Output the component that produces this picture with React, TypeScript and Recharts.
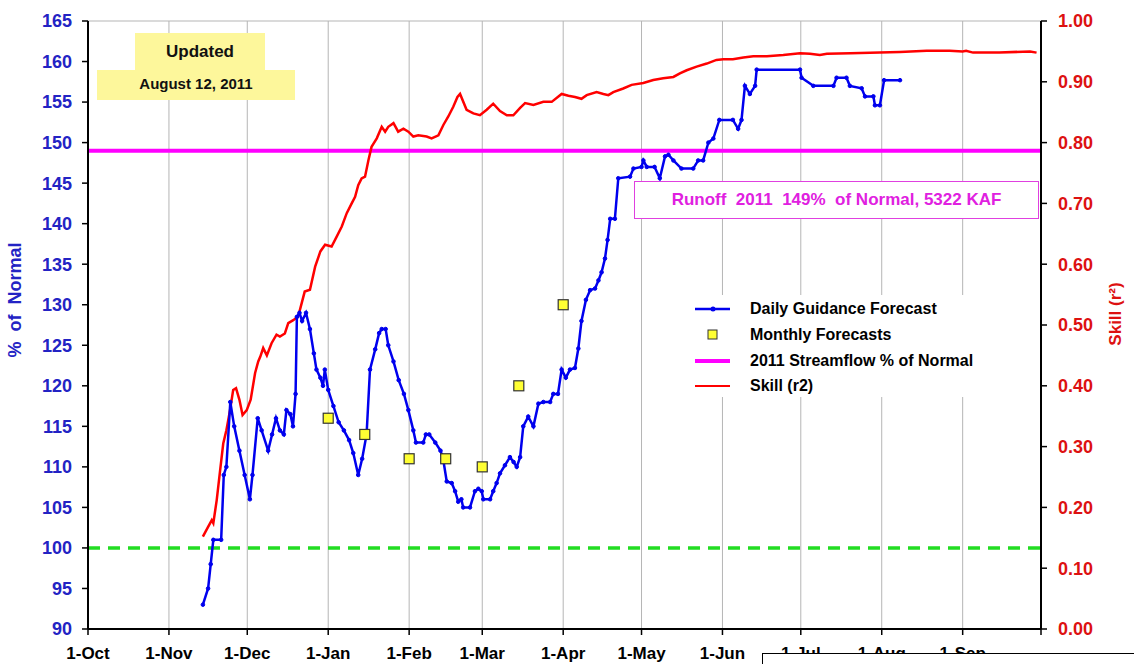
import {
  ComposedChart, Line, Scatter, XAxis, YAxis, CartesianGrid, ReferenceLine
} from 'recharts'

// x = days since 1-Oct-2010
const monthTicks = [0, 31, 61, 92, 123, 151, 182, 212, 243, 273, 304, 335, 365]
const monthLabels = ['1-Oct', '1-Nov', '1-Dec', '1-Jan', '1-Feb', '1-Mar', '1-Apr', '1-May', '1-Jun', '1-Jul', '1-Aug', '1-Sep', '']
const pctTicks = [90, 95, 100, 105, 110, 115, 120, 125, 130, 135, 140, 145, 150, 155, 160, 165]
const skillTicks = [0, 0.1, 0.2, 0.3, 0.4, 0.5, 0.6, 0.7, 0.8, 0.9, 1.0]

const normalLevel = 100
const streamflow2011 = 149

// daily guidance forecast (% of normal)
const guidance: [number, number][] = [
  [44, 93], [46, 95], [47, 98], [48, 101], [51, 101], [52, 109], [53, 110], [54.5, 118], [56, 115],
  [58, 112], [60, 109], [62, 106], [63, 109], [65, 116], [66.5, 114.5], [69, 112], [70.5, 114],
  [72, 116], [73.5, 114.5], [75, 114], [76, 117], [77.5, 116.5], [78.5, 115], [79.5, 119],
  [80, 128.5], [81, 129], [82, 128], [83.5, 129], [85, 127], [86.5, 124], [87.5, 122], [89, 121],
  [90, 120], [90.7, 122], [92, 119.5], [94, 117.5], [96, 115.5], [98, 114.5], [100, 113.3],
  [101.6, 111.7], [103.5, 109], [105, 111], [106.7, 114], [108, 122], [110, 124.5], [111.5, 126.5],
  [112.5, 127], [114, 127], [115, 125], [117, 123], [119, 120.7], [121, 119], [122.7, 117],
  [124.6, 114.5], [125.6, 113], [128.4, 113], [129.4, 114], [130.7, 114], [133, 113], [135, 112],
  [136, 111], [137.4, 108.2], [139.3, 108], [140.6, 107], [141.8, 105.7], [143, 106], [143.7, 105],
  [146.3, 105], [148.2, 107], [149.5, 107.3], [150.8, 107], [151.4, 106], [154, 106], [155.2, 107],
  [156.5, 108], [157.8, 109.2], [159.7, 110.2], [161.6, 111.2], [163, 110.6], [164.2, 110],
  [165.5, 111.2], [166.7, 115], [168.6, 116.2], [170.6, 115], [172.5, 117.8], [174.4, 118],
  [177, 118], [178.2, 119], [180, 119], [181.4, 122], [183, 121], [184.6, 122], [186.5, 122.2],
  [187.8, 124.6], [189, 128], [190.7, 130.6], [192.3, 131.8], [194.2, 132], [195.5, 133],
  [196.7, 134], [198, 135.7], [199, 138], [200, 140.6], [201.8, 140.6], [203.1, 145.6],
  [207.6, 145.8], [208.9, 146.8], [212, 147], [212.7, 147.8], [214, 147], [217, 147], [219, 145.6],
  [221, 148.3], [222.3, 148.5], [224.2, 147.8], [227.3, 146.8], [231.8, 146.8], [233.7, 147.8],
  [235.6, 147.8], [237.6, 150], [239.5, 150.5], [241.8, 152.8], [247, 152.8], [249, 151.7],
  [250.3, 152.8], [251.6, 157], [253.5, 156], [255.5, 157], [256.1, 159], [272.7, 159],
  [273.3, 158], [277.8, 157], [285.5, 157], [286.7, 158], [290.5, 158], [291.8, 157], [296.3, 156.7],
  [297.6, 155.7], [300.8, 155.7], [301.4, 154.6], [303.3, 154.6], [304.9, 157.7], [311, 157.7],
]

// monthly forecasts (% of normal)
const monthly: [number, number][] = [
  [92, 116], [106, 114], [123, 111], [137, 111], [151, 110], [165, 120], [182, 130],
]

// skill r2
const skill: [number, number][] = [
  [44, 0.152], [46, 0.168], [47.4, 0.179], [48, 0.174], [49.3, 0.212], [50.6, 0.261], [51.8, 0.305],
  [53, 0.327], [54.4, 0.36], [55.6, 0.393], [56.7, 0.396], [58, 0.377], [59.2, 0.352], [60.8, 0.36],
  [62.3, 0.377], [64, 0.421], [65.2, 0.44], [66, 0.448], [67.1, 0.462], [68.5, 0.45], [70.3, 0.47],
  [72.2, 0.484], [73.5, 0.481], [75.4, 0.486], [76.7, 0.503], [78.6, 0.508], [80.5, 0.514],
  [83, 0.555], [85, 0.558], [87, 0.596], [89, 0.621], [90.8, 0.632], [93.3, 0.629], [95.2, 0.645],
  [97.2, 0.662], [99.1, 0.684], [101, 0.7], [102.3, 0.711], [103.5, 0.73], [104.8, 0.741],
  [106.1, 0.744], [107.4, 0.771], [108.6, 0.793], [110.6, 0.807], [112.5, 0.826], [113.8, 0.818],
  [115, 0.826], [117, 0.832], [118.8, 0.818], [120.8, 0.823], [122.7, 0.818], [124.6, 0.81],
  [126.5, 0.812], [129.7, 0.81], [131.6, 0.807], [134.2, 0.812], [136.1, 0.829], [138, 0.843],
  [139.9, 0.859], [141.5, 0.875], [142.5, 0.88], [145, 0.854], [147.6, 0.848], [150.1, 0.845],
  [152.7, 0.854], [155.2, 0.864], [157.8, 0.852], [160.4, 0.845], [162.9, 0.845], [165.5, 0.857],
  [167.4, 0.865], [170.6, 0.862], [174.4, 0.867], [177.6, 0.867], [181.4, 0.88], [184, 0.877],
  [186.5, 0.875], [189, 0.872], [191, 0.878], [194.8, 0.883], [197.4, 0.88], [199.3, 0.878],
  [201.2, 0.883], [205, 0.889], [208.2, 0.895], [212.7, 0.898], [216.5, 0.903], [220.3, 0.906],
  [224.2, 0.908], [226.7, 0.914], [229.3, 0.919], [233.1, 0.925], [237, 0.93], [240.7, 0.936],
  [243.3, 0.937], [247, 0.937], [251, 0.94], [254.8, 0.942], [260, 0.942], [266.3, 0.944],
  [272.7, 0.947], [276.5, 0.946], [280.3, 0.944], [283, 0.946], [292, 0.947], [303.3, 0.948],
  [311, 0.949], [321.2, 0.951], [330, 0.951], [335, 0.95], [336.3, 0.951], [339, 0.948],
  [349, 0.948], [360.8, 0.95], [363.3, 0.948],
]

const SANS = '"Liberation Sans", Arial, sans-serif'
const BLUE = '#0000ee'
const AXIS_BLUE = '#2323c4'
const RED = '#ff0000'
const AXIS_RED = '#dd1111'
const MAGENTA = '#ff00ff'

const toPts = (a: [number, number][]) => a.map(([d, v]) => ({ d, v }))

const Square = (p: any) => (
  <rect x={p.cx - 5} y={p.cy - 5} width={10} height={10} fill="#ffff33" stroke="#333" strokeWidth={1.2} />
)

function LegendBox() {
  const row = { position: 'absolute' as const, left: 20, height: 24, display: 'flex', alignItems: 'center' }
  const txt = { position: 'absolute' as const, left: 55, whiteSpace: 'nowrap' as const }
  return (
    <div style={{ position: 'absolute', left: 675, top: 295, width: 320, height: 102, background: '#fff',
      fontFamily: SANS, fontWeight: 'bold', fontSize: 16, color: '#000' }}>
      <div style={{ ...row, top: 2 }}>
        <svg width={36} height={10}><line x1={0} y1={5} x2={35} y2={5} stroke={BLUE} strokeWidth={2.5} /><circle cx={18} cy={5} r={2.5} fill={BLUE} /></svg>
        <span style={txt}>Daily Guidance Forecast</span>
      </div>
      <div style={{ ...row, top: 28 }}>
        <svg width={36} height={12}><rect x={13} y={1} width={9} height={9} fill="#ffff33" stroke="#333" /></svg>
        <span style={txt}>Monthly Forecasts</span>
      </div>
      <div style={{ ...row, top: 54 }}>
        <svg width={36} height={10}><line x1={0} y1={5} x2={35} y2={5} stroke={MAGENTA} strokeWidth={4} /></svg>
        <span style={txt}>2011 Streamflow % of Normal</span>
      </div>
      <div style={{ ...row, top: 79 }}>
        <svg width={36} height={10}><line x1={0} y1={5} x2={35} y2={5} stroke={RED} strokeWidth={2} /></svg>
        <span style={txt}>Skill (r2)</span>
      </div>
    </div>
  )
}

export default function App() {
  return (
    <div style={{ position: 'relative', width: 1134, height: 664, overflow: 'hidden', background: '#fff' }}>
      <style>{'body{margin:0;overflow:hidden}'}</style>
      <ComposedChart width={1134} height={664} margin={{ top: 21, right: 0, bottom: 0, left: 0 }}>
        <CartesianGrid stroke="#b5b5b5" strokeWidth={1} />
        <XAxis dataKey="d" type="number" domain={[0, 365]} ticks={monthTicks} height={35}
          tickFormatter={(v: number) => monthLabels[monthTicks.indexOf(v)] ?? ''}
          axisLine={{ stroke: '#000', strokeWidth: 2 }} tickLine={{ stroke: '#000', strokeWidth: 1.5 }}
          tickSize={6} tickMargin={12}
          tick={{ fill: '#000', fontSize: 17, fontWeight: 'bold', fontFamily: SANS }} />
        <YAxis yAxisId="left" orientation="left" domain={[90, 165]} ticks={pctTicks} width={88}
          allowDataOverflow axisLine={{ stroke: '#000', strokeWidth: 2 }} tickLine={{ stroke: '#000', strokeWidth: 1.5 }}
          tickSize={6} tickMargin={10}
          tick={{ fill: AXIS_BLUE, fontSize: 18, fontWeight: 'bold', fontFamily: SANS }} />
        <YAxis yAxisId="right" orientation="right" domain={[0, 1]} ticks={skillTicks} width={93}
          allowDataOverflow axisLine={{ stroke: '#000', strokeWidth: 2 }} tickLine={{ stroke: '#000', strokeWidth: 1.5 }}
          tickSize={6} tickMargin={11} tickFormatter={(v: number) => v.toFixed(2)}
          tick={{ fill: AXIS_RED, fontSize: 18, fontWeight: 'bold', fontFamily: SANS }} />
        <ReferenceLine yAxisId="left" y={normalLevel} stroke="#22dd22" strokeWidth={3.5} strokeDasharray="12 8" />
        <ReferenceLine yAxisId="left" y={streamflow2011} stroke={MAGENTA} strokeWidth={4} />
        <Line yAxisId="right" data={toPts(skill)} dataKey="v" stroke={RED} strokeWidth={2.5}
          dot={false} isAnimationActive={false} />
        <Line yAxisId="left" data={toPts(guidance)} dataKey="v" stroke={BLUE} strokeWidth={2.5}
          dot={{ r: 1.8, fill: BLUE, stroke: BLUE, strokeWidth: 1 }} isAnimationActive={false} />
        <Scatter yAxisId="left" data={toPts(monthly)} dataKey="v" shape={Square} isAnimationActive={false} />
      </ComposedChart>

      {/* axis titles */}
      <div style={{ position: 'absolute', left: 15, top: 300, transform: 'translate(-50%,-50%) rotate(-90deg)',
        whiteSpace: 'pre', fontFamily: SANS, fontWeight: 'bold', fontSize: 18, color: AXIS_BLUE }}>%  of  Normal</div>
      <div style={{ position: 'absolute', left: 1116, top: 314, transform: 'translate(-50%,-50%) rotate(-90deg)',
        whiteSpace: 'nowrap', fontFamily: SANS, fontWeight: 'bold', fontSize: 17, color: AXIS_RED }}>Skill (r²)</div>

      {/* updated note */}
      <div style={{ position: 'absolute', left: 135, top: 33, width: 130, height: 37, background: '#fdf79b' }} />
      <div style={{ position: 'absolute', left: 97, top: 70, width: 198, height: 30, background: '#fdf79b' }} />
      <div style={{ position: 'absolute', left: 135, top: 42, width: 130, textAlign: 'center',
        fontFamily: SANS, fontWeight: 'bold', fontSize: 17, color: '#111' }}>Updated</div>
      <div style={{ position: 'absolute', left: 97, top: 75, width: 198, textAlign: 'center',
        fontFamily: SANS, fontWeight: 'bold', fontSize: 15, color: '#111' }}>August 12, 2011</div>

      {/* runoff note */}
      <div style={{ position: 'absolute', left: 634, top: 181, width: 405, height: 38, boxSizing: 'border-box',
        border: '1.5px solid #e040e0', background: '#fff', display: 'flex', alignItems: 'center',
        justifyContent: 'center', whiteSpace: 'pre', fontFamily: SANS, fontWeight: 'bold', fontSize: 17,
        color: '#e020e0' }}>Runoff  2011  149%  of Normal, 5322 KAF</div>

      <LegendBox />

      {/* box overlapping the bottom right corner */}
      <div style={{ position: 'absolute', left: 762, top: 653, width: 400, height: 40,
        borderTop: '1.5px solid #000', borderLeft: '1.5px solid #000', background: '#fff' }} />
    </div>
  )
}
